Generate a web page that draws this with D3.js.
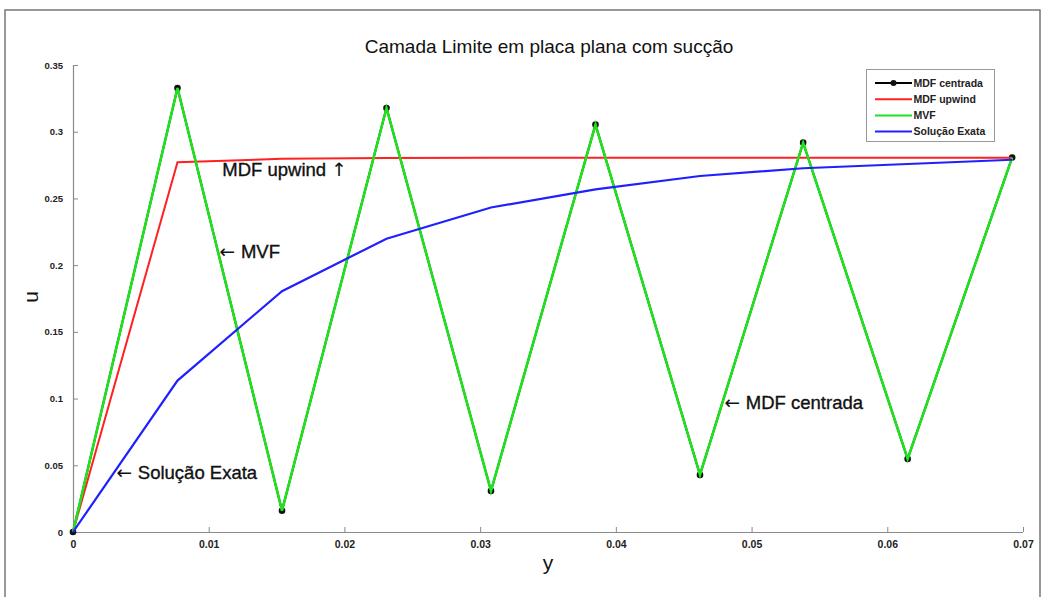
<!DOCTYPE html>
<html>
<head>
<meta charset="utf-8">
<script src="https://cdn.jsdelivr.net/npm/d3@7"></script>
<style>
  html, body { margin: 0; padding: 0; background: #fff; }
  svg { display: block; font-family: "Liberation Sans", Arial, sans-serif; }
</style>
</head>
<body>
<svg id="chart" width="1045" height="597"></svg>
<script>
// Boundary layer over a flat plate with suction: velocity u along y
const yNodes = [0, 0.0077, 0.0154, 0.0231, 0.0308, 0.0385, 0.0462, 0.0538, 0.0615, 0.0692];
const mdfCentrada = [0, 0.3328, 0.0160, 0.3178, 0.0308, 0.3053, 0.0428, 0.2918, 0.0548, 0.2807];
const mdfUpwind   = [0, 0.2772, 0.2797, 0.2803, 0.2805, 0.2805, 0.2805, 0.2805, 0.2805, 0.2805];
const mvf         = [0, 0.3328, 0.0160, 0.3178, 0.0308, 0.3053, 0.0428, 0.2918, 0.0548, 0.2807];
const solucaoExata = [0, 0.1135, 0.1805, 0.2198, 0.2432, 0.2568, 0.2668, 0.2726, 0.2758, 0.2790];

const xTicks = [0, 0.01, 0.02, 0.03, 0.04, 0.05, 0.06, 0.07];
const xTickLabels = ["0", "0.01", "0.02", "0.03", "0.04", "0.05", "0.06", "0.07"];
const yTicks = [0, 0.05, 0.1, 0.15, 0.2, 0.25, 0.3, 0.35];
const yTickLabels = ["0", "0.05", "0.1", "0.15", "0.2", "0.25", "0.3", "0.35"];

const seriesNames = ["MDF centrada", "MDF upwind", "MVF", "Solução Exata"];
const seriesColors = ["#000000", "#ff2020", "#20e020", "#2020ff"];

const svg = d3.select("#chart");

// Figure frame
svg.append("path")
  .attr("d", "M5,597 V10 H1040 V597")
  .attr("fill", "none").attr("stroke", "#777").attr("stroke-width", 1.5);

const x = d3.scaleLinear().domain([0, 0.07]).range([73, 1023]);
const y = d3.scaleLinear().domain([0, 0.35]).range([532, 65]);

// Axes with inward ticks
const xAxis = d3.axisBottom(x).tickValues(xTicks)
  .tickFormat((d, i) => xTickLabels[i]).tickSize(-5).tickPadding(9);
const yAxis = d3.axisLeft(y).tickValues(yTicks)
  .tickFormat((d, i) => yTickLabels[i]).tickSize(-5).tickPadding(10);

const gx = svg.append("g").attr("transform", "translate(0,532)").call(xAxis);
const gy = svg.append("g").attr("transform", "translate(73,0)").call(yAxis);
[gx, gy].forEach(g => {
  g.select(".domain").attr("stroke", "#8a8a8a").attr("stroke-width", 1.2);
  g.selectAll(".tick line").attr("stroke", "#8a8a8a");
  g.selectAll(".tick text").attr("fill", "#222")
    .attr("font-weight", "bold").attr("font-family", "Liberation Sans, Arial, sans-serif");
});
gx.selectAll(".tick text").attr("font-size", 10.5);
gy.selectAll(".tick text").attr("font-size", 9.5);
gx.select(".domain").attr("d", "M73,0.5H1023");
gy.select(".domain").attr("d", "M0.5,532V65");

const line = d3.line().x((d, i) => x(yNodes[i])).y(d => y(d));

// MDF centrada (black with markers)
svg.append("path").datum(mdfCentrada).attr("d", line)
  .attr("fill", "none").attr("stroke", seriesColors[0]).attr("stroke-width", 2);
svg.append("g").selectAll("circle").data(mdfCentrada).join("circle")
  .attr("cx", (d, i) => x(yNodes[i])).attr("cy", d => y(d)).attr("r", 3.3)
  .attr("fill", "#111");
// MDF upwind
svg.append("path").datum(mdfUpwind).attr("d", line)
  .attr("fill", "none").attr("stroke", seriesColors[1]).attr("stroke-width", 2);
// MVF
svg.append("path").datum(mvf).attr("d", line)
  .attr("fill", "none").attr("stroke", seriesColors[2]).attr("stroke-width", 2.6);
// Exact solution
svg.append("path").datum(solucaoExata).attr("d", line)
  .attr("fill", "none").attr("stroke", seriesColors[3]).attr("stroke-width", 2.2);

// Title and axis labels
svg.append("text").attr("x", 549).attr("y", 53).attr("text-anchor", "middle")
  .attr("font-size", 19).attr("fill", "#111").text("Camada Limite em placa plana com sucção");
svg.append("text").attr("x", 548).attr("y", 570).attr("text-anchor", "middle")
  .attr("font-size", 21).attr("fill", "#111").text("y");
svg.append("text").attr("transform", "translate(38,297) rotate(-90)").attr("text-anchor", "middle")
  .attr("font-size", 21).attr("fill", "#111").text("u");

// Annotations: arrow glyphs set in DejaVu Sans, labels in Liberation Sans
const notes = [
  { pre: "", t: "MDF upwind ", post: "\u2191", x: 0.0110, y: 0.2670 },
  { pre: "\u2190 ", t: "MVF", post: "", x: 0.0108, y: 0.2055 },
  { pre: "\u2190 ", t: "Solução Exata", post: "", x: 0.0032, y: 0.0400 },
  { pre: "\u2190 ", t: "MDF centrada", post: "", x: 0.0480, y: 0.0925 }
];
const nt = svg.append("g").selectAll("text").data(notes).join("text")
  .attr("x", d => x(d.x)).attr("y", d => y(d.y))
  .attr("font-size", 18.5).attr("fill", "#111")
  .attr("stroke", "#111").attr("stroke-width", 0.35);
nt.append("tspan").attr("font-family", "DejaVu Sans").attr("stroke-width", 0.1).text(d => d.pre);
nt.append("tspan").text(d => d.t);
nt.append("tspan").attr("font-family", "DejaVu Sans").attr("stroke-width", 0.1).text(d => d.post);

// Legend
const lg = svg.append("g");
lg.append("rect").attr("x", 866.5).attr("y", 69.5).attr("width", 128).attr("height", 72)
  .attr("fill", "#fff").attr("stroke", "#999");
seriesNames.forEach((name, i) => {
  const yy = 83 + i * 16.2;
  lg.append("line").attr("x1", 875).attr("x2", 912).attr("y1", yy).attr("y2", yy)
    .attr("stroke", seriesColors[i]).attr("stroke-width", 2);
  if (i === 0) lg.append("circle").attr("cx", 893.5).attr("cy", yy).attr("r", 3).attr("fill", "#111");
  lg.append("text").attr("x", 913.5).attr("y", yy + 3.8).attr("font-size", 10.5)
    .attr("font-weight", "bold").attr("fill", "#222").text(name);
});
</script>
</body>
</html>
